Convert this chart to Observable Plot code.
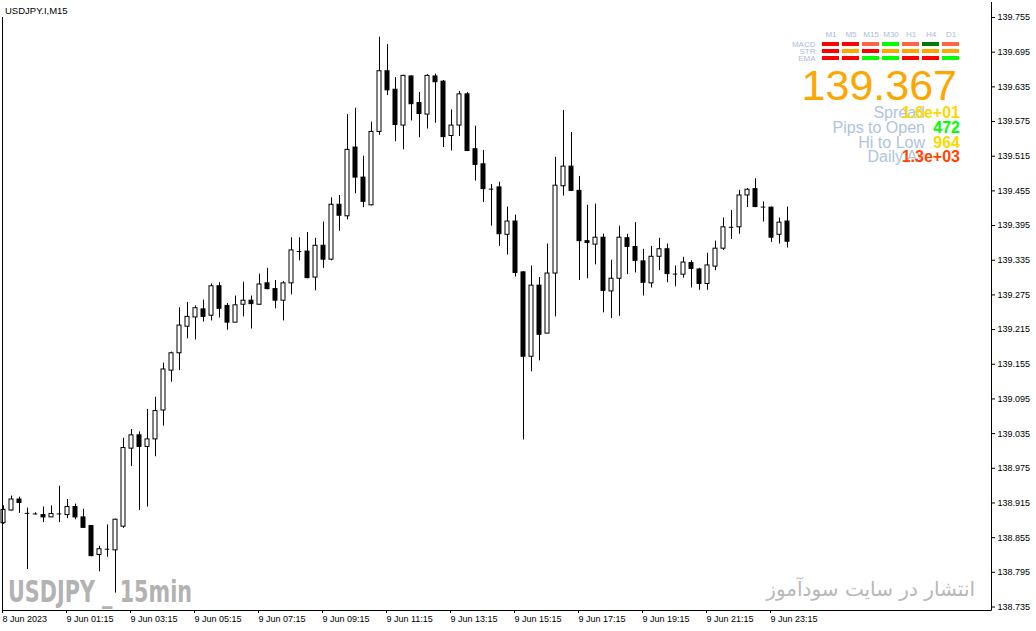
<!DOCTYPE html>
<html>
<head>
<meta charset="utf-8">
<script src="https://cdn.jsdelivr.net/npm/d3@7"></script>
<script src="https://cdn.jsdelivr.net/npm/@observablehq/plot@0.6"></script>
<style>
  body { margin: 0; background: white; }
  #wrap { position: relative; width: 1036px; height: 631px; overflow: hidden; }
  #chart svg { display: block; }
  #panel { position: absolute; left: 780px; top: 20px; }
</style>
</head>
<body>
<div id="wrap">
  <div id="chart"></div>
  <div id="panel"></div>
</div>
<script>
// velas M15, del 8 Jun 23:15 al 9 Jun 23:45
const opens = [138.880,138.902,138.921,138.897,138.896,138.894,138.890,138.896,138.894,138.908,
  138.890,138.875,138.825,138.835,138.833,138.874,139.009,139.032,139.012,139.025,
  139.075,139.144,139.174,139.220,139.236,139.250,139.239,139.290,139.256,139.227,
  139.258,139.265,139.258,139.295,139.285,139.265,139.295,139.350,139.350,139.305,
  139.360,139.336,139.431,139.411,139.530,139.478,139.430,139.557,139.662,139.630,
  139.568,139.653,139.607,139.587,139.653,139.644,139.550,139.568,139.622,139.527,
  139.501,139.458,139.461,139.379,139.402,139.314,139.168,139.291,139.208,139.312,
  139.463,139.497,139.455,139.368,139.362,139.374,139.281,139.303,139.373,139.358,
  139.333,139.295,139.341,139.354,139.311,139.310,139.330,139.319,139.294,139.324,
  139.355,139.392,139.392,139.447,139.458,139.427,139.426,139.379,139.402]
const highs = [138.910,138.927,138.925,138.906,138.898,138.908,138.910,138.944,138.921,138.913,
  138.904,138.876,138.840,138.877,138.887,139.027,139.042,139.038,139.077,139.098,
  139.157,139.176,139.253,139.262,139.256,139.266,139.294,139.296,139.260,139.273,
  139.297,139.273,139.311,139.321,139.300,139.298,139.374,139.374,139.383,139.373,
  139.401,139.443,139.447,139.587,139.598,139.515,139.574,139.721,139.708,139.651,
  139.655,139.654,139.625,139.656,139.657,139.646,139.595,139.627,139.625,139.567,
  139.525,139.466,139.470,139.427,139.413,139.315,139.325,139.305,139.363,139.513,
  139.594,139.556,139.480,139.430,139.432,139.380,139.335,139.394,139.380,139.400,
  139.354,139.359,139.373,139.363,139.325,139.340,139.334,139.321,139.347,139.368,
  139.408,139.421,139.456,139.459,139.476,139.436,139.427,139.408,139.427]
const lows = [138.878,138.901,138.897,138.800,138.894,138.881,138.890,138.881,138.888,138.886,
  138.871,138.822,138.796,138.821,138.759,138.871,138.978,138.902,138.908,138.995,
  139.048,139.124,139.144,139.199,139.197,139.228,139.230,139.235,139.214,139.227,
  139.237,139.216,139.257,139.284,139.251,139.230,139.275,139.334,139.303,139.282,
  139.321,139.334,139.385,139.405,139.450,139.426,139.429,139.551,139.620,139.540,
  139.526,139.576,139.547,139.562,139.572,139.530,139.524,139.549,139.523,139.472,
  139.435,139.394,139.359,139.344,139.306,139.024,139.142,139.161,139.208,139.237,
  139.446,139.454,139.300,139.303,139.327,139.244,139.234,139.238,139.310,139.313,
  139.273,139.287,139.317,139.296,139.289,139.304,139.287,139.283,139.283,139.317,
  139.352,139.371,139.380,139.426,139.426,139.401,139.366,139.363,139.356]
const closes = [138.903,138.921,138.915,138.897,138.896,138.890,138.896,138.896,138.908,138.890,
  138.872,138.823,138.835,138.835,138.886,139.010,139.032,139.012,139.025,139.074,
  139.146,139.174,139.222,139.237,139.252,139.237,139.290,139.251,139.227,139.257,
  139.265,139.259,139.293,139.285,139.265,139.295,139.352,139.350,139.304,139.360,
  139.336,139.431,139.412,139.526,139.478,139.436,139.557,139.662,139.629,139.569,
  139.654,139.605,139.588,139.654,139.643,139.548,139.568,139.622,139.524,139.500,
  139.458,139.458,139.380,139.402,139.313,139.168,139.291,139.206,139.312,139.464,
  139.497,139.455,139.368,139.365,139.374,139.282,139.303,139.374,139.358,139.334,
  139.296,139.341,139.354,139.311,139.311,139.331,139.320,139.294,139.326,139.355,
  139.392,139.392,139.447,139.457,139.427,139.427,139.374,139.400,139.367]

const xTickIdx = [0, 8, 16, 24, 32, 40, 48, 56, 64, 72, 80, 88, 96]
const xTickLabels = ["8 Jun 2023", "9 Jun 01:15", "9 Jun 03:15", "9 Jun 05:15", "9 Jun 07:15",
  "9 Jun 09:15", "9 Jun 11:15", "9 Jun 13:15", "9 Jun 15:15", "9 Jun 17:15", "9 Jun 19:15",
  "9 Jun 21:15", "9 Jun 23:15"]
const yTicks = [138.735, 138.795, 138.855, 138.915, 138.975, 139.035, 139.095, 139.155, 139.215,
  139.275, 139.335, 139.395, 139.455, 139.515, 139.575, 139.635, 139.695, 139.755]

// panel de señales
const timeframes = ["M1", "M5", "M15", "M30", "H1", "H4", "D1"]
const indicators = ["MACD", "STR", "EMA"]
const macdColors = ["#ff0000", "#ff0000", "#ff6347", "#00ff00", "#ff6347", "#007a00", "#ff6347"]
const strColors = ["#ff0000", "#ffa500", "#ff0000", "#ffa500", "#ffa500", "#ffa500", "#ffa500"]
const emaColors = ["#ff0000", "#ff0000", "#00ff00", "#00ff00", "#ff0000", "#ff0000", "#00ff00"]

const lastPrice = "139.367"
const infoLabels = ["Spread", "Pips to Open", "Hi to Low", "Daily Av"]
const infoValues = ["1.6e+01", "472", "964", "1.3e+03"]
const infoColors = ["#ffd700", "#00ff00", "#ffd700", "#ff4500"]

const candles = opens.map((o, i) => ({i, open: o, high: highs[i], low: lows[i], close: closes[i]}))

const font = "'Liberation Sans', Arial, sans-serif"
const half = 0.25 // medio ancho del cuerpo

let chart = Plot.plot({
  width: 1036,
  height: 631,
  marginTop: 2,
  marginRight: 45,
  marginBottom: 21,
  marginLeft: 2,
  style: {fontFamily: font, fontSize: "9px", background: "white", color: "black", overflow: "visible"},
  x: {type: "linear", domain: [0, 98], range: [3, 787]},
  y: {domain: [138.735, 139.755], range: [606.5, 17]},
  marks: [
    Plot.axisY({anchor: "right", ticks: yTicks, tickFormat: d3.format(".3f"), tickSize: 3, tickPadding: 3, label: null}),
    Plot.axisX({anchor: "bottom", ticks: xTickIdx, tickFormat: i => xTickLabels[xTickIdx.indexOf(i)],
      tickSize: 3, tickPadding: 2, textAnchor: "start", dx: -1, label: null}),
    // mechas
    Plot.ruleX(candles, {x: "i", y1: "low", y2: "high", stroke: "black", strokeWidth: 1}),
    // cuerpos
    Plot.rect(candles.filter(d => d.open !== d.close), {
      x1: d => d.i - half, x2: d => d.i + half,
      y1: "open", y2: "close",
      fill: d => d.close > d.open ? "white" : "black",
      stroke: "black", strokeWidth: 1
    }),
    // doji
    Plot.ruleY(candles.filter(d => d.open === d.close), {
      y: "close", x1: d => d.i - 0.28, x2: d => d.i + 0.28, stroke: "black", strokeWidth: 1
    })
  ]
})

d3.select('#chart').append(() => chart)

const svg = d3.select(chart)
// marco
svg.append("line").attr("x1", 991.5).attr("y1", 2).attr("x2", 991.5).attr("y2", 610.5).attr("stroke", "black")
svg.append("line").attr("x1", 2).attr("y1", 610.5).attr("x2", 991.5).attr("y2", 610.5).attr("stroke", "black")
svg.append("line").attr("x1", 2.5).attr("y1", 17).attr("x2", 2.5).attr("y2", 610.5).attr("stroke", "black")

svg.append("text").attr("x", 5).attr("y", 13.5).attr("font-size", "9.5px").attr("font-family", font)
  .attr("text-anchor", "start").attr("fill", "black").text("USDJPY.I,M15")

// marcas de agua
svg.append("text").attr("x", 8).attr("y", 602).attr("font-size", "30px")
  .attr("font-family", "'DejaVu Sans', 'Liberation Sans', sans-serif")
  .attr("font-weight", "bold").attr("fill", "#b2b2b2").attr("text-anchor", "start")
  .attr("textLength", 184).attr("lengthAdjust", "spacingAndGlyphs")
  .text("USDJPY _ 15min")
svg.append("text").attr("x", 975).attr("y", 596).attr("font-size", "20px")
  .attr("font-family", "'DejaVu Sans', sans-serif").attr("fill", "#b8b8b8")
  .attr("text-anchor", "end")
  .text("انتشار در سایت سودآموز")

// precio y datos
svg.append("text").attr("x", 957).attr("y", 100).attr("font-size", "43px").attr("font-family", font)
  .attr("text-anchor", "end").attr("fill", "#ffa500").text(lastPrice)
const rowY = [117.5, 132.5, 147.5, 162]
infoLabels.forEach((t, k) => {
  svg.append("text").attr("x", 925).attr("y", rowY[k]).attr("font-size", "16px").attr("font-family", font)
    .attr("text-anchor", "end").attr("fill", "#b0c4de").text(t)
})
infoValues.forEach((t, k) => {
  svg.append("text").attr("x", 960).attr("y", rowY[k]).attr("font-size", "16px").attr("font-family", font)
    .attr("font-weight", "bold").attr("text-anchor", "end").attr("fill", infoColors[k]).text(t)
})

// tabla de señales
const rowColors = [macdColors, strColors, emaColors]
const cells = indicators.flatMap((ind, r) => timeframes.map((tf, c) => ({tf, ind, color: rowColors[r][c]})))

let panel = Plot.plot({
  width: 200,
  height: 50,
  marginTop: 19,
  marginLeft: 40,
  marginRight: 20,
  marginBottom: 7,
  style: {fontFamily: font, fontSize: "8px", color: "#a9bcd8", background: "transparent", overflow: "visible"},
  x: {type: "band", domain: timeframes, range: [40.2, 180.2], paddingInner: 0.15, paddingOuter: 0.075},
  y: {type: "band", domain: indicators, range: [19.4, 42.95], paddingInner: 0.49, paddingOuter: 0.245},
  color: {type: "identity"},
  marks: [
    Plot.cell(cells, {x: "tf", y: "ind", fill: "color", inset: 0}),
    Plot.axisX({anchor: "top", tickSize: 0, tickPadding: 3, label: null}),
    Plot.axisY({anchor: "left", tickSize: 0, tickPadding: 5, label: null})
  ]
})

d3.select('#panel').append(() => panel)
</script>
</body>
</html>
